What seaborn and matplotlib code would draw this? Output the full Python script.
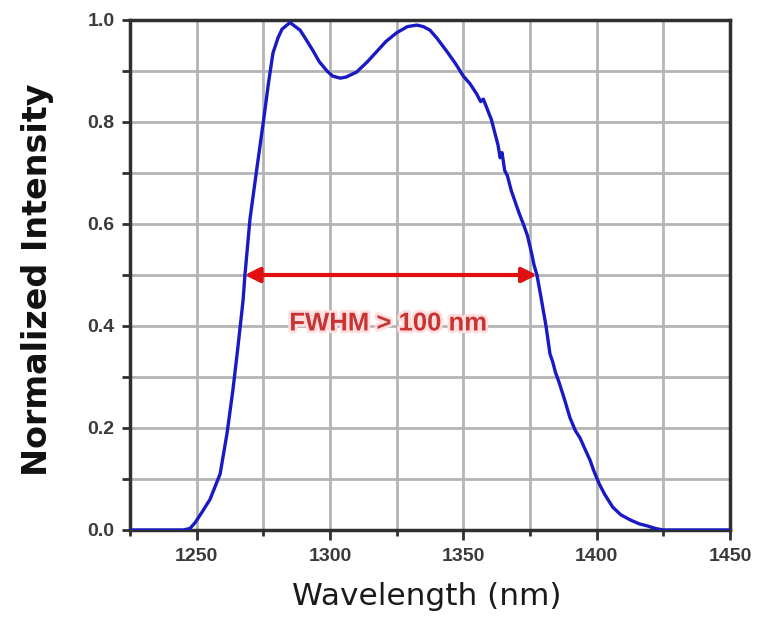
import matplotlib
matplotlib.use("Agg")
import matplotlib.pyplot as plt
import matplotlib.patheffects as pe
from matplotlib.ticker import MultipleLocator, FormatStrFormatter
import seaborn as sns
import pandas as pd

# ---- data ----
wavelength = [1225, 1235, 1245, 1247.5, 1249.5, 1252, 1255, 1258.8, 1261.4, 1263.6,
              1265.5, 1267.4, 1268.1, 1270, 1272.6, 1275, 1276.9, 1278.6, 1280.5, 1282,
              1285, 1288.8, 1291, 1293.6, 1296, 1298.9, 1301, 1303.8, 1306, 1310,
              1314, 1317.5, 1321, 1325, 1329, 1332.6, 1335, 1337.5, 1340, 1343.6,
              1347, 1350, 1352.5, 1355, 1356.5, 1357.5, 1359, 1360.5, 1362, 1363,
              1363.8, 1364.5, 1365.5, 1366.5, 1368, 1369, 1370, 1371, 1372.5, 1374,
              1375.5, 1376.5, 1377.6, 1379, 1380, 1381, 1382.5, 1383.5, 1384.5, 1386,
              1388, 1390, 1392, 1393.8, 1395.5, 1397.5, 1399, 1401, 1403, 1406,
              1409, 1412.5, 1416, 1419, 1422, 1425, 1435, 1450]
intensity = [0.0, 0.0, 0.0, 0.003, 0.015, 0.035, 0.06, 0.11, 0.19, 0.275,
             0.36, 0.45, 0.50, 0.61, 0.71, 0.80, 0.875, 0.935, 0.965, 0.982,
             0.995, 0.98, 0.962, 0.94, 0.918, 0.90, 0.89, 0.886, 0.888, 0.898,
             0.918, 0.938, 0.958, 0.975, 0.987, 0.99, 0.987, 0.98, 0.965, 0.94,
             0.915, 0.89, 0.875, 0.855, 0.84, 0.845, 0.825, 0.805, 0.775, 0.755,
             0.73, 0.74, 0.705, 0.695, 0.665, 0.65, 0.635, 0.62, 0.60, 0.578,
             0.545, 0.52, 0.50, 0.46, 0.43, 0.40, 0.345, 0.33, 0.31, 0.288,
             0.255, 0.22, 0.195, 0.18, 0.16, 0.137, 0.115, 0.09, 0.07, 0.045,
             0.03, 0.02, 0.012, 0.008, 0.003, 0.0, 0.0, 0.0]

x_ticks = [1250, 1300, 1350, 1400, 1450]
y_ticks = [0.0, 0.2, 0.4, 0.6, 0.8, 1.0]
fwhm_left, fwhm_right, fwhm_level = 1268, 1377.6, 0.5
annotation_text = "FWHM > 100 nm"

df = pd.DataFrame({"Wavelength": wavelength, "Intensity": intensity})

sns.set_style("white")
plt.rcParams["font.family"] = ["Liberation Sans", "DejaVu Sans"]

fig = plt.figure(figsize=(7.6, 6.17), dpi=100)
ax = fig.add_axes([130 / 760, 1 - 530 / 617, 600 / 760, 510 / 617])

sns.lineplot(data=df, x="Wavelength", y="Intensity", ax=ax, sort=False,
             estimator=None, color="#1a1ac4", linewidth=2.4, zorder=3)

ax.set_xlim(1225, 1450)
ax.set_ylim(0, 1.0)
ax.set_xticks(x_ticks)
ax.set_yticks(y_ticks)
ax.xaxis.set_minor_locator(MultipleLocator(25))
ax.yaxis.set_minor_locator(MultipleLocator(0.1))
ax.yaxis.set_major_formatter(FormatStrFormatter("%.1f"))

ax.grid(True, which="both", color="#b4b4b4", linewidth=2, zorder=0)
ax.set_axisbelow(True)
for s in ax.spines.values():
    s.set_color("#303030")
    s.set_linewidth(2.5)
    s.set_visible(True)

ax.tick_params(axis="x", which="major", direction="out", length=7, width=2,
               color="#303030", labelsize=14, labelcolor="#3a3a3a", pad=6)
ax.tick_params(axis="x", which="minor", direction="out", length=4, width=2,
               color="#303030")
ax.tick_params(axis="y", which="both", direction="out", length=6, width=2,
               color="#303030", labelsize=14, labelcolor="#3a3a3a", pad=5,
               left=True)
ax.tick_params(axis="x", which="both", bottom=True)
for lab in ax.get_xticklabels() + ax.get_yticklabels():
    lab.set_fontweight("bold")

ax.set_xlabel("Wavelength (nm)", fontsize=22.5, color="#1a1a1a",
              family=["DejaVu Sans"])
ax.set_ylabel("Normalized Intensity", fontsize=24, fontweight="bold",
              color="#111111", family=["DejaVu Sans"])
ax.xaxis.set_label_coords(0.495, -0.102)
ax.yaxis.set_label_coords(-0.126, 0.49)

# FWHM arrow and label
ax.annotate("", xy=(fwhm_left, fwhm_level), xytext=(fwhm_right, fwhm_level),
            arrowprops=dict(arrowstyle="<|-|>", color="#e01010", lw=3,
                            mutation_scale=22, shrinkA=0, shrinkB=0), zorder=4)
txt = ax.text((fwhm_left + fwhm_right) / 2 - 0.9, 0.405, annotation_text,
              color="#c83434", fontsize=18.5, fontweight="bold",
              ha="center", va="center", zorder=4)
txt.set_path_effects([pe.withStroke(linewidth=4, foreground="#ffdede")])

fig.savefig("out.png", dpi=100, facecolor="white")
